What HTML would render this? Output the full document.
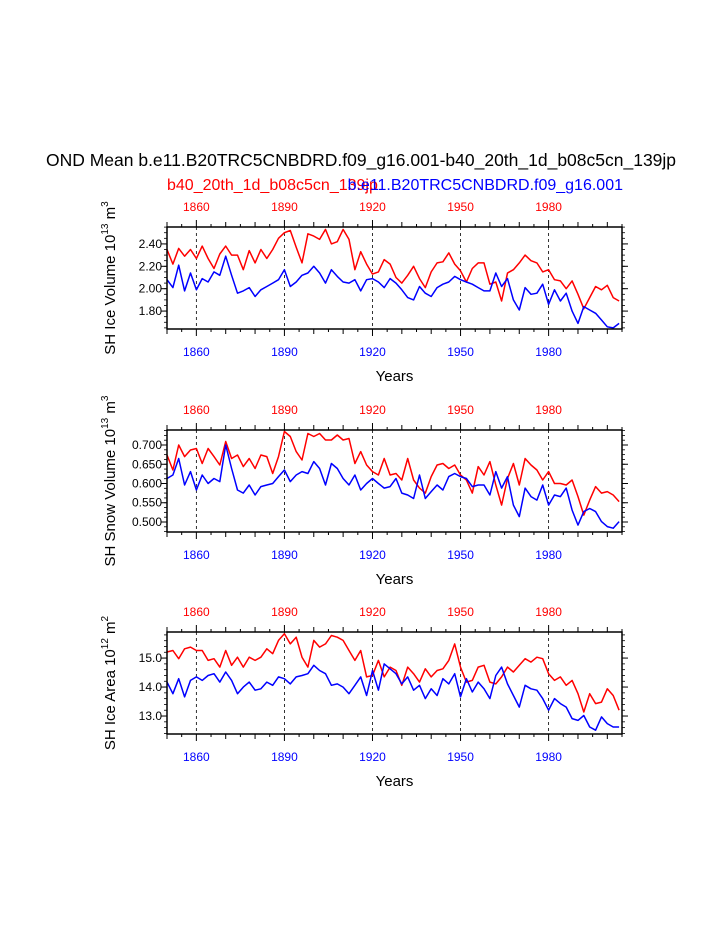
<!DOCTYPE html>
<html><head><meta charset="utf-8"><style>
html,body{margin:0;padding:0;background:#fff;}
svg{display:block;font-family:"Liberation Sans",Arial,sans-serif;}
</style></head><body>
<svg id="chart" width="723" height="935" viewBox="0 0 723 935" xmlns="http://www.w3.org/2000/svg">
<text x="361" y="166" font-size="17.5" text-anchor="middle">OND Mean b.e11.B20TRC5CNBDRD.f09_g16.001-b40_20th_1d_b08c5cn_139jp</text>
<text x="167" y="190" font-size="16" fill="#ff0000">b40_20th_1d_b08c5cn_139jp</text>
<text x="623" y="190" font-size="16" fill="#0000ff" text-anchor="end">b.e11.B20TRC5CNBDRD.f09_g16.001</text>
</svg>
<script>
const years = [];
for (let y = 1850; y <= 2004; y += 2) years.push(y);
const yearTicks = [1860, 1890, 1920, 1950, 1980];
const red1 = [2.35,2.22,2.36,2.29,2.35,2.27,2.38,2.27,2.18,2.31,2.38,2.30,2.30,2.17,2.34,2.23,2.35,2.27,2.35,2.45,2.50,2.52,2.37,2.23,2.49,2.47,2.44,2.53,2.40,2.42,2.53,2.44,2.17,2.33,2.22,2.13,2.15,2.26,2.22,2.10,2.05,2.12,2.20,2.09,2.01,2.15,2.23,2.24,2.32,2.22,2.16,2.06,2.18,2.23,2.23,2.04,2.06,1.89,2.14,2.17,2.23,2.30,2.25,2.23,2.15,2.17,2.08,2.07,2.00,2.07,1.95,1.82,1.92,2.02,1.99,2.03,1.92,1.89];
const blue1 = [2.08,2.01,2.21,1.98,2.14,1.99,2.09,2.06,2.15,2.12,2.29,2.12,1.96,1.98,2.01,1.93,1.99,2.02,2.05,2.08,2.17,2.02,2.06,2.12,2.14,2.20,2.14,2.05,2.17,2.11,2.06,2.05,2.08,1.98,2.08,2.09,2.06,2.01,2.09,2.05,1.99,1.92,1.90,2.02,1.96,1.93,2.01,2.04,2.06,2.11,2.08,2.06,2.04,2.01,1.98,1.98,2.14,2.02,2.09,1.90,1.81,2.01,1.95,1.96,2.04,1.86,1.99,1.89,1.96,1.80,1.69,1.84,1.81,1.78,1.72,1.66,1.65,1.69];
const red2 = [0.674,0.635,0.700,0.670,0.687,0.691,0.652,0.691,0.670,0.648,0.709,0.665,0.674,0.644,0.665,0.639,0.674,0.670,0.626,0.670,0.735,0.722,0.683,0.661,0.730,0.722,0.730,0.713,0.713,0.726,0.713,0.717,0.652,0.683,0.648,0.631,0.622,0.665,0.622,0.626,0.609,0.665,0.609,0.588,0.575,0.618,0.648,0.652,0.639,0.648,0.622,0.609,0.575,0.644,0.622,0.657,0.596,0.544,0.613,0.652,0.596,0.665,0.648,0.635,0.609,0.631,0.600,0.600,0.596,0.609,0.566,0.518,0.557,0.592,0.575,0.579,0.570,0.553];
const blue2 = [0.613,0.622,0.665,0.596,0.631,0.583,0.622,0.600,0.613,0.605,0.700,0.639,0.583,0.575,0.596,0.570,0.592,0.596,0.600,0.618,0.635,0.605,0.622,0.631,0.626,0.657,0.639,0.596,0.652,0.639,0.613,0.596,0.622,0.583,0.600,0.613,0.600,0.588,0.592,0.613,0.575,0.570,0.561,0.622,0.561,0.579,0.596,0.583,0.618,0.626,0.618,0.613,0.592,0.596,0.596,0.570,0.631,0.588,0.618,0.544,0.514,0.588,0.566,0.557,0.596,0.544,0.570,0.566,0.588,0.531,0.492,0.527,0.535,0.527,0.501,0.488,0.484,0.501];
const red3 = [15.21,15.26,14.98,15.32,15.38,15.26,15.26,14.92,14.98,14.69,15.26,14.75,15.03,14.69,15.03,14.92,15.03,15.32,15.15,15.61,15.84,15.49,15.72,15.03,14.69,15.61,15.38,15.49,15.78,15.72,15.61,15.26,14.92,15.26,14.35,14.40,14.92,14.35,14.69,14.57,14.06,14.69,14.46,14.17,14.63,14.35,14.57,14.63,14.92,15.49,14.69,14.17,14.23,14.69,14.75,14.17,14.11,14.35,14.69,14.52,14.75,14.98,14.86,15.03,14.98,14.46,14.23,14.35,14.06,14.23,13.77,13.14,13.77,13.43,13.48,13.94,13.71,13.20];
const blue3 = [14.17,13.77,14.29,13.66,14.23,14.35,14.23,14.40,14.46,14.17,14.52,14.23,13.77,14.00,14.17,13.89,13.94,14.17,14.06,14.35,14.29,14.11,14.35,14.40,14.46,14.75,14.57,14.46,14.06,14.11,14.00,13.77,14.06,14.35,13.71,14.57,13.89,14.80,14.63,14.46,14.11,14.35,13.89,14.06,13.60,13.94,13.71,14.29,14.11,14.46,13.66,14.29,13.83,14.17,13.94,13.60,14.40,14.69,14.11,13.71,13.31,14.06,13.94,13.89,13.60,13.20,13.60,13.43,13.31,12.91,12.85,13.02,12.62,12.51,12.97,12.74,12.62,12.62];
const ticks1 = [1.80, 2.00, 2.20, 2.40];
const ticks2 = [0.500, 0.550, 0.600, 0.650, 0.700];
const ticks3 = [13.0, 14.0, 15.0];

const NS = "http://www.w3.org/2000/svg";
const svg = document.getElementById("chart");
function mk(tag, attrs, parent) {
  const e = document.createElementNS(NS, tag);
  for (const k in attrs) e.setAttribute(k, attrs[k]);
  (parent || svg).appendChild(e);
  return e;
}
const X0 = 167, X1 = 622, XMIN = 1850, XMAX = 2005;
function xs(v) { return X0 + (v - XMIN) / (XMAX - XMIN) * (X1 - X0); }

const panels = [
  {top:227, bot:329, ymin:1.64, ymax:2.551, ticks:ticks1, minor:0.05, dec:2, red:red1, blue:blue1, name:"ice-volume", title:"SH Ice Volume 10", exp1:"13", unit:" m", exp2:"3"},
  {top:430, bot:532, ymin:0.474, ymax:0.739, ticks:ticks2, minor:0.0125, dec:3, red:red2, blue:blue2, name:"snow-volume", title:"SH Snow Volume 10", exp1:"13", unit:" m", exp2:"3"},
  {top:632, bot:734, ymin:12.38, ymax:15.9, ticks:ticks3, minor:0.2, dec:1, red:red3, blue:blue3, name:"ice-area", title:"SH Ice Area 10", exp1:"12", unit:" m", exp2:"2"}
];

panels.forEach(function(p) {
  const g = mk("g", {});
  
  
  function ys(v) { return p.bot - (v - p.ymin) / (p.ymax - p.ymin) * (p.bot - p.top); }
  yearTicks.forEach(function(yr) {
    const l = mk("line", {x1:xs(yr), x2:xs(yr), y1:p.top, y2:p.bot, stroke:"#000", "stroke-width":0.8, "stroke-dasharray":"3,3"}, g);
    
    
  });
  for (let yr = 1850; yr <= 2005; yr += 5) {
    const major = (yr % 10 === 0);
    const len = (yr - 1860) % 30 === 0 ? 7 : (major ? 5 : 3);
    mk("line", {x1:xs(yr), x2:xs(yr), y1:p.bot, y2:p.bot + len, stroke:"#000", "stroke-width":1}, g);
    mk("line", {x1:xs(yr), x2:xs(yr), y1:p.top, y2:p.top - len, stroke:"#000", "stroke-width":1}, g);
  }
  yearTicks.forEach(function(yr) {
    const tb = mk("text", {x:xs(yr), y:p.bot + 27, "font-size":12, fill:"#0000ff", "text-anchor":"middle"}, g);
    tb.textContent = yr;
    
    
    const tt = mk("text", {x:xs(yr), y:p.top - 16, "font-size":12, fill:"#ff0000", "text-anchor":"middle"}, g);
    tt.textContent = yr;
    
    
  });
  for (let v = Math.ceil(p.ymin / p.minor) * p.minor; v <= p.ymax; v += p.minor) {
    mk("line", {x1:X0, x2:X0 - 3, y1:ys(v), y2:ys(v), stroke:"#000", "stroke-width":0.8}, g);
    mk("line", {x1:X1, x2:X1 + 3, y1:ys(v), y2:ys(v), stroke:"#000", "stroke-width":0.8}, g);
  }
  p.ticks.forEach(function(v) {
    mk("line", {x1:X0, x2:X0 - 6, y1:ys(v), y2:ys(v), stroke:"#000", "stroke-width":1}, g);
    mk("line", {x1:X1, x2:X1 + 6, y1:ys(v), y2:ys(v), stroke:"#000", "stroke-width":1}, g);
    const t = mk("text", {x:X0 - 5, y:ys(v) + 4, "font-size":12, "text-anchor":"end"}, g);
    t.textContent = v.toFixed(p.dec);
    
    
  });
  function line(vals, color, nm) {
    const d = vals.map(function(v, i) { return (i ? "L" : "M") + xs(years[i]).toFixed(1) + "," + ys(v).toFixed(1); }).join("");
    const pth = mk("path", {d:d, fill:"none", stroke:color, "stroke-width":1.5, "stroke-linejoin":"round"}, g);
    
    
  }
  line(p.red, "#ff0000", p.name + '-red-line');
  line(p.blue, "#0000ff", p.name + '-blue-line');
  const fr = mk("rect", {x:X0, y:p.top, width:X1 - X0, height:p.bot - p.top, fill:"none", stroke:"#000", "stroke-width":1.5}, g);
  
  
  const xt = mk("text", {x:(X0 + X1) / 2, y:p.bot + 52, "font-size":15, "text-anchor":"middle"}, g);
  xt.textContent = "Years";
  
  
  const cy = (p.top + p.bot) / 2;
  const yt = mk("text", {x:0, y:0, "font-size":15, "text-anchor":"middle", transform:"translate(115," + cy + ") rotate(-90)"}, g);
  
  
  const s1 = mk("tspan", {}, yt); s1.textContent = p.title;
  const s2 = mk("tspan", {"font-size":10, dy:-7}, yt); s2.textContent = p.exp1;
  const s3 = mk("tspan", {dy:7}, yt); s3.textContent = p.unit;
  const s4 = mk("tspan", {"font-size":10, dy:-7}, yt); s4.textContent = p.exp2;
});
</script>
</body></html>
